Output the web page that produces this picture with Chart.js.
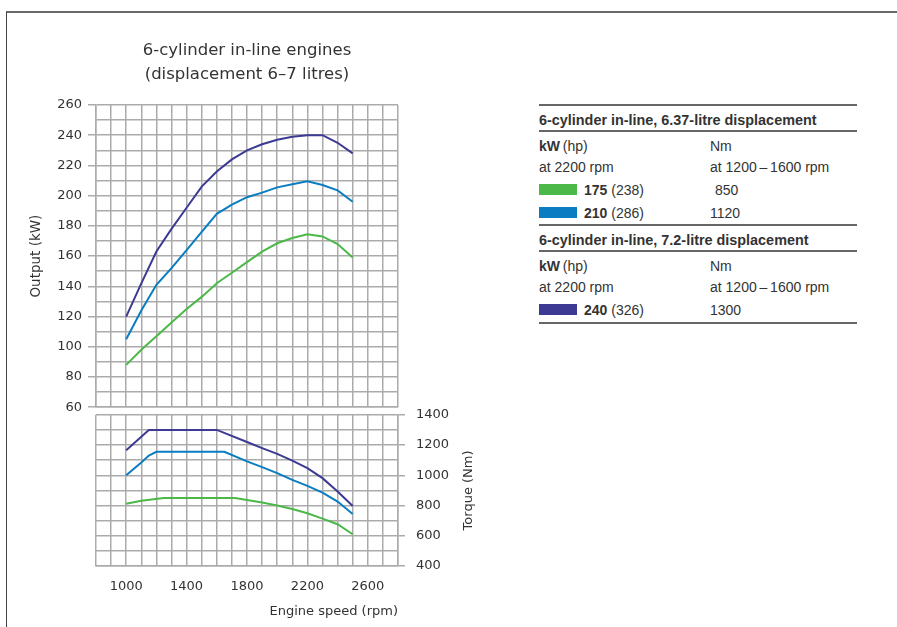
<!DOCTYPE html>
<html><head><meta charset="utf-8">
<script src="https://cdn.jsdelivr.net/npm/chart.js@4.4.1/dist/chart.umd.min.js"></script>
<style>
html,body{margin:0;padding:0;background:#fff;width:897px;height:627px;overflow:hidden;position:relative;}
#frame{position:absolute;left:6px;top:11px;width:895px;height:620px;border-top:2px solid #6a6a6a;border-left:1px solid #444;}
canvas{position:absolute;left:0;}
#c1{top:0}
#c2{top:396px}
.t{position:absolute;font-family:"Liberation Sans",Arial,sans-serif;font-size:14px;color:#333;line-height:20px;height:20px;white-space:nowrap}
.h{font-size:14.4px}
.rule{position:absolute;left:539px;width:318px;height:2px;background:#666}
.sw{position:absolute;left:539px;width:38px;height:11px}
</style></head><body>
<div id="frame"></div>
<canvas id="c1" width="420" height="421"></canvas>
<canvas id="c2" width="500" height="231"></canvas>
<div id="table"></div>
<script>
// ---------- data ----------
const seriesNames = ['175 kW', '210 kW', '240 kW'];
const seriesColors = ['#4cb848', '#0a7dc2', '#3d3a94'];

const rpmOutput = [1000,1100,1200,1300,1400,1500,1600,1700,1800,1900,2000,2100,2200,2300,2400,2500];
const output175 = [88, 98, 107, 116, 125, 133, 142, 149, 156, 163, 168.5, 172, 174.5, 173, 168, 159];
const output210 = [105, 124, 141, 152, 164, 176, 188, 194, 199, 202, 205.5, 207.5, 209.5, 207, 203.5, 196];
const output240 = [120, 142, 163, 178, 192, 206, 216, 224, 230, 234, 237, 239, 240, 240, 235, 228];

const rpmTorque175 = [1000, 1100, 1250, 1720, 1800, 1900, 2000, 2100, 2200, 2300, 2400, 2500];
const torque175    = [812, 832, 850, 850, 836, 820, 800, 777, 749, 713, 676, 610];
const rpmTorque210 = [1000, 1100, 1150, 1200, 1650, 1800, 1900, 2000, 2100, 2200, 2300, 2400, 2500];
const torque210    = [1000, 1085, 1130, 1155, 1155, 1092, 1054, 1014, 970, 930, 885, 826, 744];
const rpmTorque240 = [1000, 1150, 1600, 1800, 1900, 2000, 2100, 2200, 2300, 2400, 2500];
const torque240    = [1165, 1300, 1300, 1220, 1180, 1142, 1097, 1047, 981, 892, 797];

const outputTickLabels = [60, 80, 100, 120, 140, 160, 180, 200, 220, 240, 260];
const torqueTickLabels = [400, 600, 800, 1000, 1200, 1400];
const rpmTickLabels = [1000, 1400, 1800, 2200, 2600];

const chartTitle = ['6-cylinder in-line engines', '(displacement 6\u20137 litres)'];
const outputTitle = 'Output (kW)';
const torqueTitle = 'Torque (Nm)';
const rpmTitle = 'Engine speed (rpm)';

// legend table data
const table1Title = '6-cylinder in-line, 6.37-litre displacement';
const table2Title = '6-cylinder in-line, 7.2-litre displacement';
const powerKW = [175, 210, 240];
const powerHP = [238, 286, 326];
const torqueNm = [850, 1120, 1300];

// ---------- styles ----------
const GRID = '#ababab';
const TXT = '#333';
const FONT = '"DejaVu Sans", Verdana, sans-serif';

function pts(xs, ys){ return xs.map((x,i)=>({x:x, y:ys[i]})); }
function ds(label, data, color){
  return {label, data, borderColor: color, backgroundColor: color, borderWidth: 2, pointRadius: 0, tension: 0, fill: false};
}
const gridOpts = (labels) => ({
  color: GRID, lineWidth: 1.5, tickLength: 8,
  tickColor: (c) => (c.tick && labels.includes(c.tick.value)) ? GRID : 'rgba(0,0,0,0)'
});

// ---------- top chart: output ----------
new Chart(document.getElementById('c1'), {
  type: 'line',
  data: { datasets: [
    ds(seriesNames[0], pts(rpmOutput, output175), seriesColors[0]),
    ds(seriesNames[1], pts(rpmOutput, output210), seriesColors[1]),
    ds(seriesNames[2], pts(rpmOutput, output240), seriesColors[2])
  ]},
  options: {
    responsive: false, animation: false, devicePixelRatio: 1,
    layout: { padding: { left: 28, right: 22, top: 0, bottom: 0 } },
    plugins: {
      legend: { display: false }, tooltip: { enabled: false },
      title: { display: true, text: chartTitle, fullSize: false, color: TXT,
        font: { family: FONT, size: 16.5, weight: 'normal', lineHeight: '24px' },
        padding: { top: 39, bottom: 18 } }
    },
    scales: {
      x: { type: 'linear', min: 800, max: 2800,
        ticks: { display: false, stepSize: 100 },
        grid: { color: GRID, lineWidth: 1.5, drawTicks: false },
        border: { color: GRID, width: 1.5 },
        afterFit: (s) => { s.height = 0; } },
      y: { type: 'linear', position: 'left', min: 60, max: 260,
        ticks: { stepSize: 10, autoSkip: false, color: TXT, padding: 6,
          font: { family: FONT, size: 13 },
          callback: (v) => outputTickLabels.includes(v) ? String(v) : '' },
        grid: gridOpts(outputTickLabels),
        border: { color: GRID, width: 1.5 },
        title: { display: true, text: outputTitle, color: TXT, padding: { top: 0, bottom: 0 },
          font: { family: FONT, size: 13.5 } },
        afterFit: (s) => { s.width = 68; } }
    }
  }
});

// ---------- bottom chart: torque ----------
const rightTitle = {
  id: 'rightTitle',
  afterDraw(chart) {
    const ctx = chart.ctx;
    ctx.save();
    ctx.translate(469, (chart.chartArea.top + chart.chartArea.bottom) / 2);
    ctx.rotate(-Math.PI / 2);
    ctx.font = '13px ' + FONT;
    ctx.fillStyle = TXT;
    ctx.textAlign = 'center';
    ctx.textBaseline = 'middle';
    ctx.fillText(torqueTitle, 0, 0);
    ctx.restore();
  }
};
new Chart(document.getElementById('c2'), {
  type: 'line',
  data: { datasets: [
    ds(seriesNames[0], pts(rpmTorque175, torque175), seriesColors[0]),
    ds(seriesNames[1], pts(rpmTorque210, torque210), seriesColors[1]),
    ds(seriesNames[2], pts(rpmTorque240, torque240), seriesColors[2])
  ]},
  plugins: [rightTitle],
  options: {
    responsive: false, animation: false, devicePixelRatio: 1,
    layout: { padding: { left: 96, right: 0, top: 15, bottom: 0 } },
    plugins: { legend: { display: false }, tooltip: { enabled: false } },
    scales: {
      x: { type: 'linear', min: 800, max: 2800,
        ticks: { stepSize: 100, autoSkip: false, maxRotation: 0, color: TXT, padding: 13,
          font: { family: FONT, size: 13 },
          callback: (v) => rpmTickLabels.includes(v) ? String(v) : '' },
        grid: { color: GRID, lineWidth: 1.5, drawTicks: false },
        border: { color: GRID, width: 1.5 },
        title: { display: true, text: rpmTitle, align: 'end', color: TXT,
          padding: { top: 0, bottom: 8 }, font: { family: FONT, size: 13 } },
        afterFit: (s) => { s.height = 61; } },
      y: { type: 'linear', position: 'right', min: 400, max: 1400,
        ticks: { stepSize: 100, autoSkip: false, color: TXT, padding: 11,
          font: { family: FONT, size: 13 },
          callback: (v) => torqueTickLabels.includes(v) ? String(v) : '' },
        grid: Object.assign(gridOpts(torqueTickLabels), { tickLength: 7 }),
        border: { color: GRID, width: 1.5 },
        afterFit: (s) => { s.width = 102; } }
    }
  }
});

// ---------- legend table ----------
(function(){
  const root = document.getElementById('table');
  const add = (html, cls, left, top) => {
    const d = document.createElement('div');
    d.className = cls; d.style.left = left + 'px'; d.style.top = top + 'px';
    d.innerHTML = html; root.appendChild(d);
  };
  const rule = (top) => { const d = document.createElement('div'); d.className = 'rule'; d.style.top = top + 'px'; root.appendChild(d); };
  const block = (title, top0, idxs) => {
    rule(top0 - 16);
    add('<b>' + title + '</b>', 't h', 539, top0 - 10);
    rule(top0 + 10);
    add('<b>kW</b>\u2009(hp)', 't', 539, top0 + 16);
    add('Nm', 't', 710, top0 + 16);
    add('at 2200 rpm', 't', 539, top0 + 37);
    add('at 1200\u2009\u2013\u20091600 rpm', 't', 710, top0 + 37);
    idxs.forEach((i, k) => {
      const cy = top0 + 70 + k * 23;
      const sw = document.createElement('div'); sw.className = 'sw';
      sw.style.top = (cy - 6) + 'px'; sw.style.background = seriesColors[i]; root.appendChild(sw);
      add('<b>' + powerKW[i] + '</b> (' + powerHP[i] + ')', 't', 584, cy - 10);
      add(String(torqueNm[i]), 't', torqueNm[i] < 1000 ? 715 : 710, cy - 10);
    });
  };
  block(table1Title, 120, [0, 1]);
  block(table2Title, 240, [2]);
  rule(322);
})();
</script>
</body></html>
